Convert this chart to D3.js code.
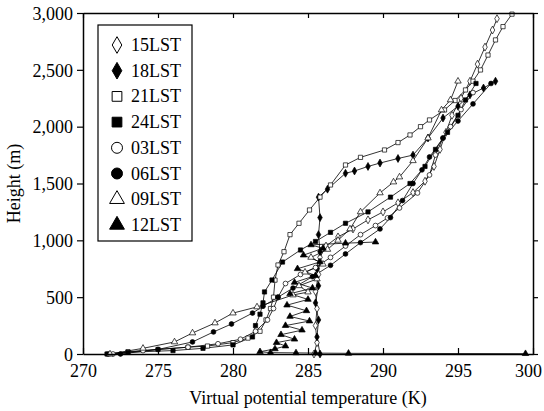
<!DOCTYPE html>
<html>
<head>
<meta charset="utf-8">
<script src="https://cdnjs.cloudflare.com/ajax/libs/d3/7.8.5/d3.min.js"></script>
<style>
body { margin: 0; background: #fff; }
text { font-family: "Liberation Serif", "Times New Roman", serif; fill: #000; }
</style>
</head>
<body>
<script>
var w = 544, h = 411;
var margin = {top: 13, right: 11, bottom: 57, left: 83};

var xTicks = [270, 275, 280, 285, 290, 295, 300];
var yTicks = [0, 500, 1000, 1500, 2000, 2500, 3000];

var seriesNames = ["15LST", "18LST", "21LST", "24LST", "03LST", "06LST", "09LST", "12LST"];

// [virtual potential temperature (K), height (m)]
var lst15 = [[285.4,0],[285.6,100],[285.5,250],[285.6,400],[285.5,550],[285.7,700],[285.8,850],[286.2,950],[287,1030],[288,1100],[289,1180],[290,1250],[291,1330],[292,1420],[292.8,1520],[293.4,1650],[293.8,1800],[294.2,1950],[294.6,2100],[295.2,2250],[295.8,2400],[296.3,2550],[296.8,2700],[297.3,2850],[297.6,2950]];
var lst18 = [[285.8,0],[285.6,150],[285.7,300],[285.5,450],[285.7,600],[285.6,750],[285.8,900],[285.7,1050],[285.8,1200],[285.7,1380],[286.3,1450],[287.5,1590],[288.1,1610],[289,1650],[289.8,1680],[291,1720],[292,1750],[293,1900],[294,2076],[295,2180],[295.8,2280],[296.7,2340],[297.5,2400]];
var lst21 = [[271.7,0],[273,20],[275,40],[277,60],[278.3,70],[280,100],[281,140],[281.8,200],[282.2,300],[282.5,400],[282.7,500],[282.8,650],[283,783],[283.4,900],[283.8,1050],[284.4,1150],[285.1,1267],[285.8,1380],[286.5,1487],[287.5,1663],[288.5,1730],[290.1,1795],[291,1860],[291.8,1927],[292.5,2000],[293.1,2059],[294.1,2147],[294.8,2230],[295.5,2323],[296,2400],[296.5,2499],[297,2630],[297.5,2763],[298,2880],[298.6,2990]];
var lst24 = [[271.6,0],[273,15],[276,30],[278,50],[280,80],[281.3,150],[281.5,250],[281.8,350],[282,450],[282.1,546],[282.6,651],[283.3,809],[284.5,915],[285.5,990],[286.5,1070],[287.5,1150],[289,1250],[290.5,1380],[291.8,1500],[292.8,1650],[293.5,1800],[294.3,1950],[295,2100],[295.5,2235],[296.2,2380]];
var lst03 = [[272,0],[274,30],[277,60],[279,90],[280.5,130],[281.5,200],[282.3,300],[282.7,400],[283,500],[283.5,620],[284.5,700],[285.5,760],[286.5,850],[287.5,950],[288.5,1050],[289.5,1130],[290.3,1197],[291.1,1285],[292.3,1417],[293.1,1575],[293.5,1751],[294,1900],[294.5,2000],[295.2,2150],[296,2300]];
var lst06 = [[272.5,0],[275,40],[277.3,106],[278.7,194],[279.9,264],[281.3,360],[282,420],[283,500],[284,580],[285.3,680],[286.5,780],[287.5,880],[288.5,980],[289.8,1100],[290.5,1200],[291.3,1350],[292,1500],[292.6,1620],[293.1,1733],[294,1900],[295,2050],[296,2200],[297.2,2380]];
var lst09 = [[271.8,0],[274,50],[276.1,106],[277.3,185],[278.8,273],[280,360],[281.6,414],[284,519],[285,545],[284.4,600],[285.6,660],[284.8,720],[286,790],[285.2,850],[286.3,920],[287,1000],[287.8,1100],[288.5,1250],[289.8,1417],[290.7,1513],[291.1,1557],[292,1700],[293,1900],[293.9,2147],[294.5,2235],[295,2400]];
var lst12 = [[299.5,3],[287.7,6],[285.5,8],[284.2,10],[282.5,12],[281.8,20],[282.8,45],[283.5,70],[282.9,100],[284.1,130],[283.2,170],[284.6,210],[283.5,250],[285.1,290],[283.8,330],[284.9,380],[283.6,430],[285,480],[283.8,530],[285.3,580],[284.1,630],[285.5,690],[284.3,750],[285.8,810],[284.7,870],[286,930],[285.2,960],[287.5,975],[289.5,985]];

var allSeries = [lst15, lst18, lst21, lst24, lst03, lst06, lst09, lst12];
var symbolTypes = [d3.symbolDiamond, d3.symbolDiamond, d3.symbolSquare, d3.symbolSquare,
                   d3.symbolCircle, d3.symbolCircle, d3.symbolTriangle, d3.symbolTriangle];
var filled = [false, true, false, true, false, true, false, true];

var iw = w - margin.left - margin.right;
var ih = h - margin.top - margin.bottom;

var svg = d3.select("body")
    .append("svg")
    .attr("width", w)
    .attr("height", h);

var g = svg.append("g")
    .attr("transform", "translate(" + margin.left + "," + margin.top + ")");

var xScale = d3.scaleLinear().domain([270, 300]).range([0, iw]);
var yScale = d3.scaleLinear().domain([0, 3000]).range([ih, 0]);

var line = d3.line()
    .x(function (d) { return xScale(d[0]); })
    .y(function (d) { return yScale(d[1]); });

var plot = g.append("g");

// profiles
allSeries.forEach(function (s, i) {
    plot.append("path")
        .datum(s)
        .attr("d", line)
        .attr("fill", "none")
        .attr("stroke", "#000")
        .attr("stroke-width", 0.8);
});
allSeries.forEach(function (s, i) {
    plot.selectAll(".m" + i)
        .data(s)
        .enter()
        .append("path")
        .attr("transform", function (d) {
            return "translate(" + xScale(d[0]) + "," + yScale(d[1]) + ")";
        })
        .attr("d", d3.symbol().type(symbolTypes[i]).size(18))
        .attr("fill", filled[i] ? "#000" : "#fff")
        .attr("stroke", "#000")
        .attr("stroke-width", 0.7);
});

// axes
var fmt = d3.format(",");
g.append("g")
    .attr("transform", "translate(0," + ih + ")")
    .call(d3.axisBottom(xScale).tickValues(xTicks).tickSizeInner(-6).tickSizeOuter(0).tickPadding(10))
    .call(function (a) {
        a.selectAll("text").attr("font-size", 18).attr("font-family", "Liberation Serif")
            .attr("dx", function (d) { return d === 300 ? -5 : 0; });
    });

g.append("g")
    .call(d3.axisLeft(yScale).tickValues(yTicks).tickFormat(fmt).tickSizeInner(6).tickSizeOuter(0).tickPadding(4))
    .call(function (a) { a.selectAll("text").attr("font-size", 18).attr("font-family", "Liberation Serif").attr("dy", "0.35em"); });

g.append("g")
    .call(d3.axisTop(xScale).tickValues(xTicks).tickSizeInner(-5).tickSizeOuter(0).tickFormat(""));

g.append("g")
    .attr("transform", "translate(" + iw + ",0)")
    .call(d3.axisRight(yScale).tickValues(yTicks).tickSizeInner(5).tickSizeOuter(0).tickFormat(""));

g.selectAll(".domain").attr("stroke-width", 1.5);
g.selectAll(".tick line").attr("stroke-width", 1.2);

// axis titles
svg.append("text")
    .attr("x", margin.left + iw / 2)
    .attr("y", 404)
    .attr("text-anchor", "middle")
    .attr("font-size", 18)
    .text("Virtual potential temperature (K)");

svg.append("text")
    .attr("transform", "translate(20," + (margin.top + ih / 2) + ") rotate(-90)")
    .attr("text-anchor", "middle")
    .attr("font-size", 18)
    .text("Height (m)");

// legend
var legend = svg.append("g").attr("transform", "translate(98,25)");
legend.append("rect")
    .attr("width", 94)
    .attr("height", 216)
    .attr("fill", "#fff")
    .attr("stroke", "#000")
    .attr("stroke-width", 1.2);

seriesNames.forEach(function (name, i) {
    var row = legend.append("g").attr("transform", "translate(0," + (20 + i * 25.7) + ")");
    row.append("path")
        .attr("transform", "translate(19,0)")
        .attr("d", d3.symbol().type(symbolTypes[i]).size(symbolTypes[i] === d3.symbolDiamond ? 80 : 95))
        .attr("fill", filled[i] ? "#000" : "#fff")
        .attr("stroke", "#000")
        .attr("stroke-width", 1);
    row.append("text")
        .attr("x", 33)
        .attr("y", 6)
        .attr("font-size", 18)
        .text(name);
});
</script>
</body>
</html>
